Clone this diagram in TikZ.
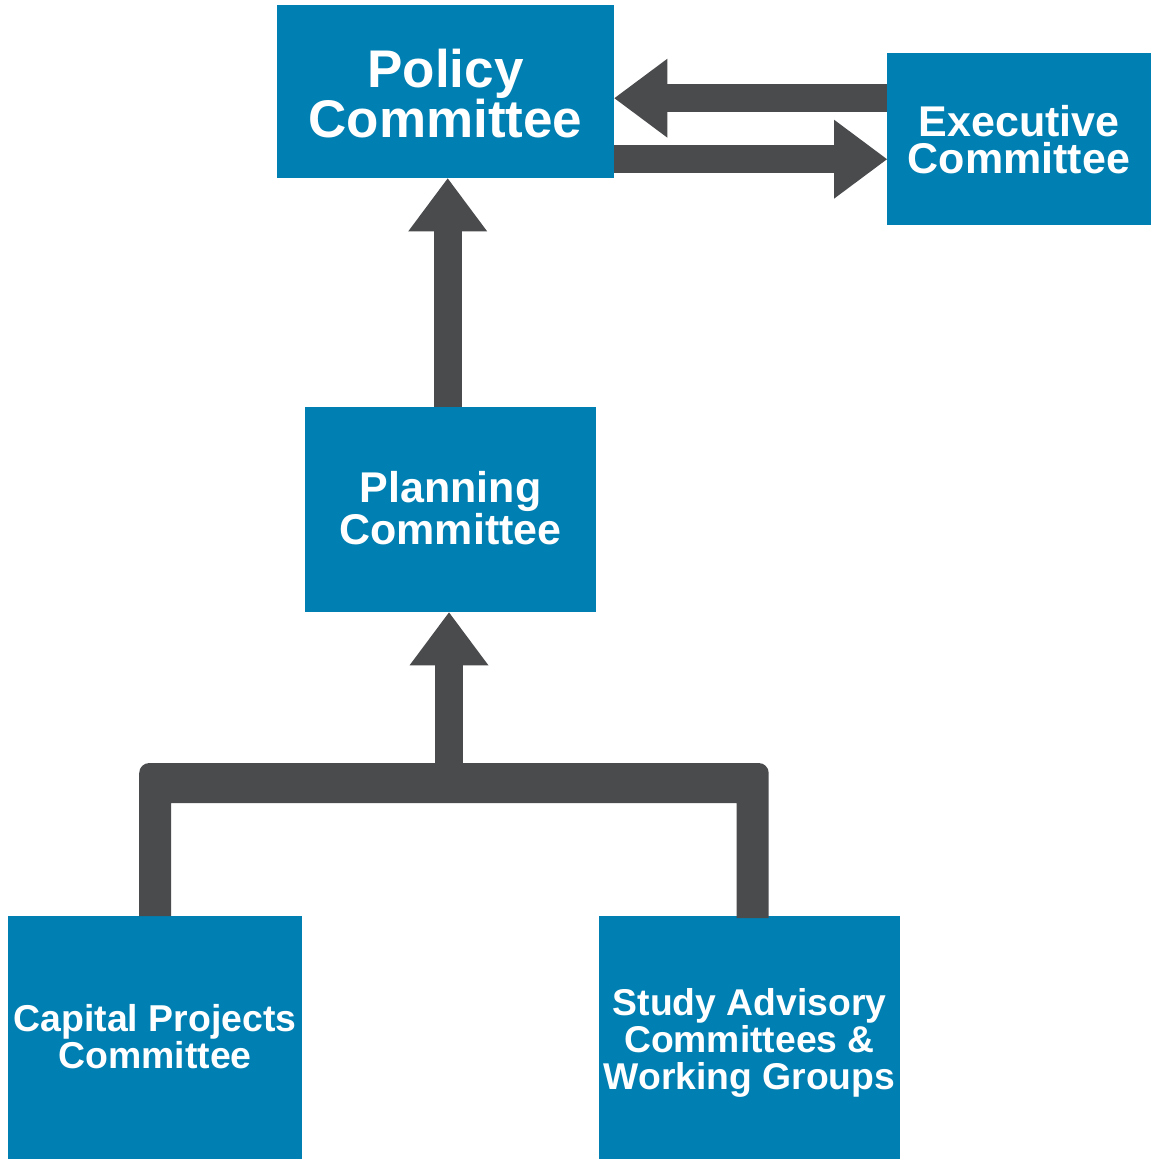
\documentclass[tikz,border=0pt]{standalone}
\usepackage{fontspec}
\setmainfont{Liberation Sans}
\usetikzlibrary{arrows.meta,calc}
\definecolor{boxblue}{HTML}{007FB2}
\definecolor{conngray}{HTML}{4A4B4D}
\begin{document}
\begin{tikzpicture}[x=1pt,y=-1pt,
  box/.style={rectangle,fill=boxblue,draw=none,inner sep=0pt,anchor=north west},
  lbl/.style={text=white,align=center,inner sep=0pt,anchor=base},
  arr/.style={draw=conngray,line width=28pt,
    -{Triangle[width=79pt,length=53pt,line width=0pt]}},
  conn/.style={fill=conngray}]
\useasboundingbox (0,0) rectangle (1155,1162);
% boxes
\node[box,minimum width=337pt,minimum height=173pt] (policy) at (277,5) {};
\node[box,minimum width=264pt,minimum height=172pt] (exec) at (887,53) {};
\node[box,minimum width=291pt,minimum height=205pt] (planning) at (305,407) {};
\node[box,minimum width=294pt,minimum height=243pt] (capital) at (8,916) {};
\node[box,minimum width=301pt,minimum height=243pt] (study) at (599,916) {};
% labels (anchor base = last line baseline)
\node[lbl,font=\fontsize{53pt}{50pt}\selectfont\bfseries] (policy-t) at (445.5,137) {Policy\\Committee};
\node[lbl,font=\fontsize{43pt}{37pt}\selectfont\bfseries] (exec-t) at (1019,173) {Executive\\Committee};
\node[lbl,font=\fontsize{43pt}{37pt}\selectfont\bfseries] (planning-t) at (450.5,544) {Planning\\Committee};
\node[lbl,font=\fontsize{37.4pt}{37pt}\selectfont\bfseries] (capital-t) at (155,1068) {Capital Projects\\Committee};
\node[lbl,font=\fontsize{37.3pt}{37pt}\selectfont\bfseries] (study-t) at (749.5,1089) {Study Advisory\\Committees \&\\Working Groups};
% connectors
\draw[arr] ([yshift=41pt]exec.west) coordinate (u1) -- (u1 -| policy.east);
\draw[arr] ([yshift=-67.5pt]policy.east) coordinate (l1) -- (l1 -| exec.west);
\draw[arr] ([xshift=-3pt]planning.north) coordinate (v1) -- (v1 |- policy.south);
\coordinate (bar) at (449,783);
\fill[conn] ([xshift=-16pt]capital.north) [rounded corners=10pt]
  -- ([xshift=-16pt,yshift=20pt]capital.north |- bar)
  -- ([xshift=19pt,yshift=20pt]study.north |- bar) [sharp corners]
  -- ([xshift=19pt,yshift=-2pt]study.north)
  -- ([xshift=-13pt,yshift=-2pt]study.north)
  -- ([xshift=-13pt,yshift=-20pt]study.north |- bar)
  -- ([xshift=16pt,yshift=-20pt]capital.north |- bar)
  -- ([xshift=16pt]capital.north) -- cycle;
\draw[arr] (bar) -- (bar |- planning.south);
\end{tikzpicture}
\end{document}
